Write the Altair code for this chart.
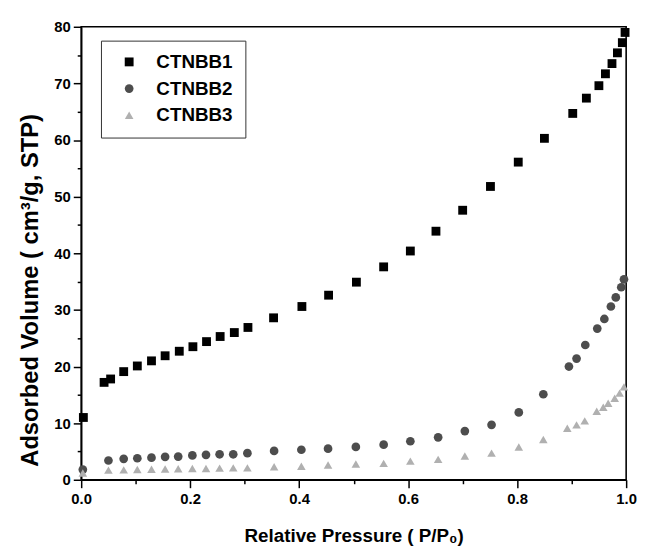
import altair as alt
import pandas as pd

series_names = ["CTNBB1", "CTNBB2", "CTNBB3"]

x1 = [0.004, 0.042, 0.054, 0.078, 0.103, 0.129, 0.154, 0.180, 0.205, 0.230, 0.255, 0.281,
      0.306, 0.353, 0.405, 0.454, 0.505, 0.555, 0.604, 0.651, 0.700, 0.751, 0.802, 0.850,
      0.902, 0.927, 0.950, 0.962, 0.974, 0.984, 0.993, 0.998]
y1 = [11.0, 17.2, 17.8, 19.1, 20.1, 21.0, 21.9, 22.7, 23.5, 24.4, 25.3, 26.0,
      26.9, 28.6, 30.6, 32.6, 34.9, 37.6, 40.4, 43.9, 47.6, 51.8, 56.1, 60.3,
      64.7, 67.4, 69.6, 71.7, 73.5, 75.4, 77.2, 79.0]

x2 = [0.003, 0.050, 0.078, 0.103, 0.129, 0.154, 0.178, 0.204, 0.229, 0.254, 0.279, 0.305,
      0.354, 0.404, 0.453, 0.504, 0.555, 0.604, 0.655, 0.704, 0.753, 0.803, 0.848, 0.895,
      0.909, 0.925, 0.947, 0.960, 0.972, 0.981, 0.991, 0.996]
y2 = [1.8, 3.4, 3.7, 3.8, 3.9, 4.05, 4.1, 4.3, 4.4, 4.5, 4.5, 4.7,
      5.1, 5.3, 5.5, 5.8, 6.2, 6.8, 7.5, 8.6, 9.7, 11.9, 15.1, 20.0,
      21.4, 23.8, 26.7, 28.4, 30.6, 32.2, 34.0, 35.4]

x3 = [0.003, 0.050, 0.078, 0.103, 0.129, 0.154, 0.178, 0.204, 0.229, 0.254, 0.279, 0.305,
      0.354, 0.404, 0.453, 0.504, 0.555, 0.604, 0.655, 0.704, 0.753, 0.803, 0.848, 0.892,
      0.909, 0.924, 0.946, 0.958, 0.967, 0.979, 0.988, 0.996]
y3 = [1.2, 1.7, 1.75, 1.8, 1.85, 1.9, 1.95, 2.0, 2.0, 2.05, 2.1, 2.1,
      2.3, 2.4, 2.6, 2.8, 2.9, 3.3, 3.6, 4.2, 4.7, 5.8, 7.1, 9.1,
      9.7, 10.4, 12.1, 12.8, 13.5, 14.4, 15.3, 16.4]

x_ticks = [0.0, 0.1, 0.2, 0.3, 0.4, 0.5, 0.6, 0.7, 0.8, 0.9, 1.0]
y_ticks = [0, 5, 10, 15, 20, 25, 30, 35, 40, 45, 50, 55, 60, 65, 70, 75, 80]

rows = []
for name, xs, ys in zip(series_names, [x1, x2, x3], [y1, y2, y3]):
    for a, b in zip(xs, ys):
        rows.append({"series": name, "p": a, "v": b})
df = pd.DataFrame(rows)

FONT = "Liberation Sans"

legend = alt.Legend(
    title=None, orient="none", legendX=20, legendY=14,
    padding=12, rowPadding=7, symbolOffset=7, labelOffset=18,
    labelFont=FONT, labelFontSize=19, labelFontWeight="bold", labelColor="black",
    strokeColor="#333333", fillColor="white",
    symbolStrokeWidth=0,
)

x_axis = alt.Axis(
    values=x_ticks,
    labelExpr="round(datum.value*10) % 2 == 0 ? format(datum.value, '.1f') : ''",
    tickSize={"condition": {"test": "round(datum.value*10) % 2 == 0", "value": 8}, "value": 4},
    labelFlush=False, labelOverlap=False, grid=False,
    labelFont=FONT, labelFontSize=15, labelFontWeight="bold", labelColor="black",
    labelPadding=4,
    title="Relative Pressure ( P/P\u2080)",
    titleFont=FONT, titleFontSize=19, titleFontWeight="bold", titleColor="black",
    titleBaseline="alphabetic", titleY=62,
)

y_axis = alt.Axis(
    values=y_ticks,
    labelExpr="datum.value % 10 == 0 ? datum.label : ''",
    tickSize={"condition": {"test": "datum.value % 10 == 0", "value": 8}, "value": 4},
    labelOverlap=False, grid=False, labelFlush=False,
    labelFont=FONT, labelFontSize=15, labelFontWeight="bold", labelColor="black",
    labelPadding=3,
    title="Adsorbed Volume ( cm\u00b3/g, STP)",
    titleFont=FONT, titleFontSize=24, titleFontWeight="bold", titleColor="black",
    titleBaseline="alphabetic", titleX=-44, titleY=266,
)

chart = alt.Chart(df).mark_point(filled=True, opacity=1, strokeWidth=0).encode(
    x=alt.X("p:Q", scale=alt.Scale(domain=[0, 1], nice=False, zero=False), axis=x_axis),
    y=alt.Y("v:Q", scale=alt.Scale(domain=[0, 80], nice=False), axis=y_axis),
    color=alt.Color("series:N", scale=alt.Scale(domain=series_names,
                    range=["#000000", "#4d4d4d", "#b0b0b0"]), legend=legend),
    shape=alt.Shape("series:N", scale=alt.Scale(domain=series_names,
                    range=["square", "circle", "triangle-up"]), legend=legend),
    size=alt.Size("series:N", scale=alt.Scale(domain=series_names,
                  range=[80, 75, 45]), legend=legend),
).properties(
    width=551, height=458,
    background="white",
    autosize=alt.AutoSizeParams(type="none"),
    padding={"left": 74, "top": 16, "right": 14, "bottom": 67},
).configure_view(
    stroke="black", strokeWidth=1.6,
).configure_axis(
    domainColor="black", domainWidth=1.6, tickColor="black", tickWidth=1.5,
)

chart.save("out.html", embed_options={"renderer": "svg", "actions": False})
